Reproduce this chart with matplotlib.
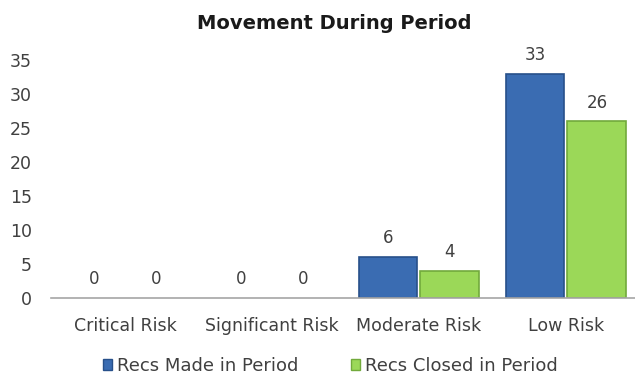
import numpy as np
import matplotlib.pyplot as plt

categories = ["Critical Risk", "Significant Risk", "Moderate Risk", "Low Risk"]
recs_made = [0, 0, 6, 33]
recs_closed = [0, 0, 4, 26]
series_names = ["Recs Made in Period", "Recs Closed in Period"]

plt.rcParams['font.family'] = ['DejaVu Sans']
text_col = "#404040"
fills = ["#3a6cb2", "#9bd858"]
edges = ["#27508a", "#72aa3c"]

fig = plt.figure(figsize=(6.35, 3.78), dpi=100)
ax = fig.add_axes([0.081, 0.212, 0.926, 0.629])

x = np.arange(len(categories))
w = 0.40
b1 = ax.bar(x - w / 2 - 0.01, recs_made, w, color=fills[0], edgecolor=edges[0], linewidth=1.2,
            label=series_names[0])
b2 = ax.bar(x + w / 2 + 0.01, recs_closed, w, color=fills[1], edgecolor=edges[1], linewidth=1.2,
            label=series_names[1])

# value labels above each bar; empty bars get no outline
for bars, vals in ((b1, recs_made), (b2, recs_closed)):
    for r, v in zip(bars, vals):
        if v == 0:
            r.set_linewidth(0)
        ax.annotate(str(v), (r.get_x() + r.get_width() / 2, v), xytext=(0, 7),
                    textcoords="offset points", ha="center", va="bottom",
                    fontsize=12, color=text_col)

ax.set_xlim(-0.5, len(categories) - 0.5)
ax.set_ylim(0, 35)
ax.set_yticks(range(0, 36, 5))
ax.set_xticks(x)
ax.set_xticklabels(categories)
ax.tick_params(axis="both", length=0, labelsize=12.5, colors=text_col)
ax.tick_params(axis="x", pad=14)
ax.tick_params(axis="y", pad=14)
for s in ("top", "right", "left"):
    ax.spines[s].set_visible(False)
ax.spines["bottom"].set_color("#a6a6a6")
ax.spines["bottom"].set_linewidth(1.2)

fig.suptitle("Movement During Period", x=0.527, y=0.962, fontsize=14, fontweight="bold",
             color="#1a1a1a", va="top")

leg = fig.legend(loc="lower center", bbox_to_anchor=(0.52, -0.035), ncol=2, frameon=False,
                 fontsize=13, handlelength=0.5, handleheight=0.5, handletextpad=0.3,
                 columnspacing=2.9, labelcolor=text_col)
for h, ec in zip(leg.legend_handles, edges):
    h.set_edgecolor(ec)
    h.set_linewidth(1.0)

fig.savefig("out.png", dpi=100)
